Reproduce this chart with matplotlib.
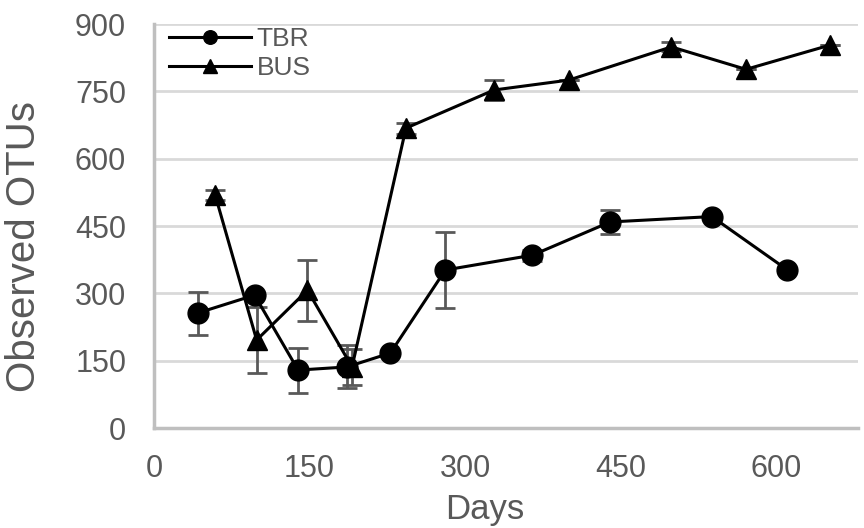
import matplotlib
matplotlib.use('Agg')
import matplotlib.pyplot as plt

# Schrift und Farben
plt.rcParams['font.family'] = ['Liberation Sans', 'DejaVu Sans']
TEXT_COLOR = '#595959'
GRID_COLOR = '#d9d9d9'
AXIS_COLOR = '#bfbfbf'
ERR_COLOR = '#595959'

# Daten
tbr_days = [42, 97, 139, 186, 228, 281, 365, 440, 538, 611]
tbr_otus = [256, 296, 129, 136, 167, 352, 385, 459, 471, 352]
tbr_err = [48, 0, 50, 48, 0, 85, 12, 27, 0, 0]

bus_days = [59, 99, 148, 191, 243, 328, 400, 499, 571, 652]
bus_otus = [519, 196, 307, 136, 668, 753, 775, 849, 799, 853]
bus_err = [12, 74, 68, 40, 12, 22, 0, 10, 0, 0]

x_ticks = [0, 150, 300, 450, 600]
y_ticks = [0, 150, 300, 450, 600, 750, 900]

fig = plt.figure(figsize=(8.64, 5.28), dpi=100)
ax = fig.add_axes([154 / 864, 1 - 428 / 528, 704 / 864, 404 / 528])

ax.errorbar(tbr_days, tbr_otus, yerr=tbr_err, color='black', lw=2.2,
            marker='o', markersize=15, ecolor=ERR_COLOR, elinewidth=2,
            capsize=7, capthick=2, label='TBR', zorder=3)
ax.errorbar(bus_days, bus_otus, yerr=bus_err, color='black', lw=2.2,
            marker='^', markersize=15, ecolor=ERR_COLOR, elinewidth=2,
            capsize=7, capthick=2, label='BUS', zorder=3)

ax.set_xlim(0, 679)
ax.set_ylim(0, 900)
ax.set_xticks(x_ticks)
ax.set_yticks(y_ticks)

ax.grid(axis='y', color=GRID_COLOR, lw=2)
ax.set_axisbelow(True)
for s in ['top', 'right']:
    ax.spines[s].set_visible(False)
for s in ['left', 'bottom']:
    ax.spines[s].set_color(AXIS_COLOR)
    ax.spines[s].set_linewidth(2.5)
ax.tick_params(length=0, labelsize=22, colors=TEXT_COLOR)
ax.tick_params(axis='y', pad=20)
ax.tick_params(axis='x', pad=19)

ax.set_xlabel('Days', fontsize=25, color=TEXT_COLOR)
ax.xaxis.set_label_coords(0.470, -0.160)
ax.set_ylabel('Observed OTUs', fontsize=29, color=TEXT_COLOR)
ax.yaxis.set_label_coords(-0.158, 0.450)

handles, labels = ax.get_legend_handles_labels()
handles = [h[0] for h in handles]
ax.legend(handles, labels, loc='upper left', frameon=False, fontsize=19,
          labelcolor=TEXT_COLOR, handlelength=3.1, handletextpad=0.2,
          labelspacing=0.2, borderpad=0, markerscale=0.65,
          bbox_to_anchor=(0.003, 1.025))

fig.savefig('out.png', dpi=100)
